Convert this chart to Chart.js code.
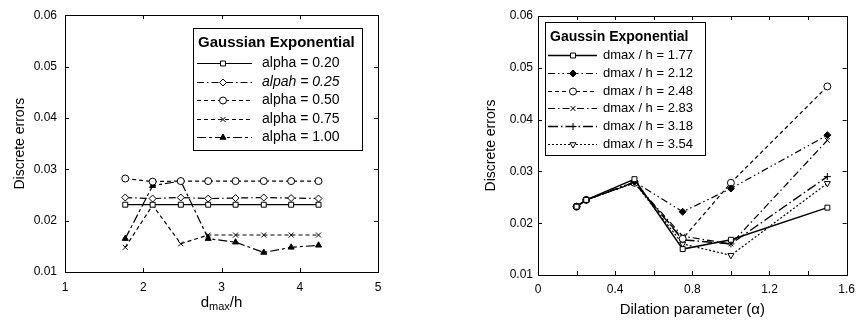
<!DOCTYPE html>
<html>
<head>
<meta charset="utf-8">
<script src="https://cdn.jsdelivr.net/npm/chart.js@4.4.1/dist/chart.umd.min.js"></script>
<style>
  body { margin: 0; background: #fff; }
  #wrap { position: relative; width: 862px; height: 320px; overflow: hidden; }
  #leftChart { position: absolute; left: 0; top: 0; }
  #rightChart { position: absolute; left: 465px; top: 0; }
</style>
</head>
<body>
<div id="wrap">
  <canvas id="leftChart" width="420" height="320"></canvas>
  <canvas id="rightChart" width="397" height="320"></canvas>
</div>
<script>
// left panel: error vs dmax/h, one line per alpha
const ratios = [1.77, 2.12, 2.48, 2.83, 3.18, 3.54, 3.89, 4.24];
const alpha020 = [0.0231, 0.0231, 0.0231, 0.0231, 0.0231, 0.0231, 0.0231, 0.0231];
const alpha025 = [0.0245, 0.0243, 0.0245, 0.0243, 0.0244, 0.0245, 0.0244, 0.0243];
const alpha050 = [0.0282, 0.0276, 0.0277, 0.0277, 0.0277, 0.0277, 0.0277, 0.0277];
const alpha075 = [0.0148, 0.0230, 0.0155, 0.0172, 0.0172, 0.0172, 0.0172, 0.0172];
const alpha100 = [0.0165, 0.0268, 0.0277, 0.0165, 0.0158, 0.0138, 0.0148, 0.0152];
const leftXTicks = [1, 2, 3, 4, 5];

// right panel: error vs dilation parameter, one line per dmax/h
const dilation = [0.2, 0.25, 0.5, 0.75, 1.0, 1.5];
const dmax177 = [0.0232, 0.0245, 0.0285, 0.0150, 0.0168, 0.0230];
const dmax212 = [0.0232, 0.0245, 0.0280, 0.0222, 0.0267, 0.0370];
const dmax248 = [0.0232, 0.0245, 0.0278, 0.0170, 0.0278, 0.0464];
const dmax283 = [0.0232, 0.0245, 0.0278, 0.0175, 0.0160, 0.0360];
const dmax318 = [0.0232, 0.0245, 0.0279, 0.0168, 0.0160, 0.0290];
const dmax354 = [0.0232, 0.0245, 0.0278, 0.0160, 0.0138, 0.0277];
const rightXTicks = [0, 0.4, 0.8, 1.2, 1.6];
const rightXMarks = [0, 0.2, 0.4, 0.6, 0.8, 1.0, 1.2, 1.4, 1.6];

const yTicks = [0.01, 0.02, 0.03, 0.04, 0.05, 0.06];

const FONT = "'Liberation Sans', Arial, sans-serif";
Chart.defaults.font.family = FONT;
Chart.defaults.color = '#000';

const series = (label, xs, ys, pointStyle, dash, extra) => ({
  label,
  data: xs.map((x, i) => ({ x, y: ys[i] })),
  borderColor: '#000',
  borderWidth: 1.2,
  borderDash: dash,
  pointStyle,
  pointRadius: 3.5,
  pointBorderWidth: 1,
  pointBorderColor: '#000',
  pointBackgroundColor: '#fff',
  fill: false,
  tension: 0,
  ...extra
});

// box round the plot plus inward tick marks, matlab style
const framePlugin = {
  id: 'frame',
  afterDatasetsDraw(chart, args, opts) {
    const { ctx, chartArea: a, scales: { x, y } } = chart;
    ctx.save();
    ctx.strokeStyle = '#000';
    ctx.lineWidth = 1;
    ctx.setLineDash([]);
    ctx.strokeRect(Math.round(a.left) + 0.5, Math.round(a.top) + 0.5, Math.round(a.right - a.left), Math.round(a.bottom - a.top));
    ctx.beginPath();
    opts.xMarks.forEach(v => {
      const px = Math.round(x.getPixelForValue(v)) + 0.5;
      ctx.moveTo(px, a.bottom); ctx.lineTo(px, a.bottom - 4);
      ctx.moveTo(px, a.top); ctx.lineTo(px, a.top + 4);
    });
    yTicks.forEach(v => {
      const py = Math.round(y.getPixelForValue(v)) + 0.5;
      ctx.moveTo(a.left, py); ctx.lineTo(a.left + 4, py);
      ctx.moveTo(a.right, py); ctx.lineTo(a.right - 4, py);
    });
    ctx.stroke();
    ctx.restore();
  }
};

// legend drawn as a framed box inside the plot
const boxLegend = {
  id: 'boxLegend',
  afterDraw(chart, args, o) {
    const ctx = chart.ctx;
    ctx.save();
    ctx.fillStyle = '#fff';
    ctx.fillRect(o.x, o.y, o.w, o.h);
    ctx.strokeStyle = '#000';
    ctx.lineWidth = 1;
    ctx.strokeRect(o.x + 0.5, o.y + 0.5, o.w, o.h);
    ctx.fillStyle = '#000';
    ctx.textBaseline = 'middle';
    ctx.font = `bold ${o.titleSize}px ${FONT}`;
    ctx.fillText(o.title, o.x + 5, o.y + o.titleOffset);
    chart.data.datasets.forEach((ds, i) => {
      const ly = Math.round(o.y + o.firstRow + i * o.rowGap) + 0.5;
      ctx.setLineDash(ds.borderDash || []);
      ctx.lineWidth = ds.borderWidth;
      ctx.beginPath();
      ctx.moveTo(o.x + o.lineFrom, ly);
      ctx.lineTo(o.x + o.lineTo, ly);
      ctx.stroke();
      ctx.setLineDash([]);
      ctx.lineWidth = 1;
      ctx.fillStyle = ds.pointBackgroundColor;
      Chart.helpers.drawPoint(ctx, {
        pointStyle: ds.pointStyle,
        radius: ds.pointRadius,
        rotation: ds.pointRotation || 0,
        borderWidth: 1
      }, o.x + o.markAt, ly);
      ctx.fillStyle = '#000';
      ctx.font = `${ds.italic ? 'italic ' : ''}${o.textSize}px ${FONT}`;
      ctx.fillText(ds.label, o.x + o.textAt, ly);
    });
    ctx.restore();
  }
};

// x title with subscript for the left panel
const subTitle = {
  id: 'subTitle',
  afterDraw(chart) {
    const { ctx, chartArea: a } = chart;
    ctx.save();
    ctx.fillStyle = '#000';
    ctx.textBaseline = 'alphabetic';
    const big = `15px ${FONT}`, small = `11px ${FONT}`;
    ctx.font = big; const w1 = ctx.measureText('d').width, w3 = ctx.measureText('/h').width;
    ctx.font = small; const w2 = ctx.measureText('max').width;
    let x0 = (a.left + a.right) / 2 - (w1 + w2 + w3) / 2;
    const base = 307;
    ctx.font = big; ctx.fillText('d', x0, base); x0 += w1;
    ctx.font = small; ctx.fillText('max', x0, base + 3); x0 += w2;
    ctx.font = big; ctx.fillText('/h', x0, base);
    ctx.restore();
  }
};

const yScale = (width, labelPad, titlePad) => ({
  type: 'linear',
  min: 0.01,
  max: 0.06,
  afterBuildTicks: s => { s.ticks = yTicks.map(value => ({ value })); },
  afterFit: s => { s.width = width; },
  grid: { display: false, drawTicks: false },
  border: { display: false },
  ticks: { padding: labelPad, font: { size: 12 }, callback: v => v.toFixed(2) },
  title: { display: true, text: 'Discrete errors', font: { size: 14 }, padding: { top: titlePad, bottom: 0 } }
});

new Chart(document.getElementById('leftChart'), {
  type: 'line',
  data: {
    datasets: [
      series('alpha = 0.20', ratios, alpha020, 'rect', []),
      series('alpah = 0.25', ratios, alpha025, 'rectRot', [7, 3, 1.5, 3], { italic: true }),
      series('alpha = 0.50', ratios, alpha050, 'circle', [4, 3]),
      series('alpha = 0.75', ratios, alpha075, 'crossRot', [4, 3]),
      series('alpha = 1.00', ratios, alpha100, 'triangle', [9, 3, 3, 3], { pointBackgroundColor: '#000' })
    ]
  },
  options: {
    responsive: false,
    animation: false,
    layout: { padding: { top: 14, right: 42, left: 0, bottom: 0 } },
    plugins: {
      legend: { display: false },
      tooltip: { enabled: false },
      frame: { xMarks: leftXTicks },
      boxLegend: {
        x: 193, y: 28, w: 169, h: 122,
        title: 'Gaussian Exponential', titleSize: 15, titleOffset: 15,
        firstRow: 35, rowGap: 18.5, textSize: 14,
        lineFrom: 4, lineTo: 59, markAt: 30, textAt: 69
      }
    },
    scales: {
      x: {
        type: 'linear',
        min: 1,
        max: 5,
        afterBuildTicks: s => { s.ticks = leftXTicks.map(value => ({ value })); },
        afterFit: s => { s.height = 48; },
        grid: { display: false, drawTicks: false },
        border: { display: false },
        ticks: { padding: 8, font: { size: 12 }, maxRotation: 0 }
      },
      y: yScale(65, 8, 12)
    }
  },
  plugins: [framePlugin, boxLegend, subTitle]
});

new Chart(document.getElementById('rightChart'), {
  type: 'line',
  data: {
    datasets: [
      series('dmax / h = 1.77', dilation, dmax177, 'rect', [], { borderWidth: 1.5 }),
      series('dmax / h = 2.12', dilation, dmax212, 'rectRot', [7, 3, 1.5, 3, 1.5, 3], { pointBackgroundColor: '#000' }),
      series('dmax / h = 2.48', dilation, dmax248, 'circle', [4, 3]),
      series('dmax / h = 2.83', dilation, dmax283, 'crossRot', [7, 3, 1.5, 3]),
      series('dmax / h = 3.18', dilation, dmax318, 'cross', [10, 3, 1.5, 3], { borderWidth: 1.4 }),
      series('dmax / h = 3.54', dilation, dmax354, 'triangle', [2, 2], { pointRotation: 180 })
    ]
  },
  options: {
    responsive: false,
    animation: false,
    layout: { padding: { top: 16, right: 10, left: 0, bottom: 0 } },
    plugins: {
      legend: { display: false },
      tooltip: { enabled: false },
      frame: { xMarks: rightXMarks },
      boxLegend: {
        x: 80, y: 22, w: 160, h: 133,
        title: 'Gaussin Exponential', titleSize: 14, titleOffset: 15,
        firstRow: 33, rowGap: 17.8, textSize: 13,
        lineFrom: 3, lineTo: 52, markAt: 28, textAt: 58
      }
    },
    scales: {
      x: {
        type: 'linear',
        min: 0,
        max: 1.6,
        afterBuildTicks: s => { s.ticks = rightXTicks.map(value => ({ value })); },
        afterFit: s => { s.height = 45; },
        grid: { display: false, drawTicks: false },
        border: { display: false },
        ticks: { padding: 7, font: { size: 12 }, maxRotation: 0, callback: v => String(Number(v.toFixed(1))) },
        title: { display: true, text: 'Dilation parameter (\u03b1)', font: { size: 15 }, padding: { top: 0, bottom: 1 } }
      },
      y: yScale(73, 5, 18)
    }
  },
  plugins: [framePlugin, boxLegend]
});
</script>
</body>
</html>
